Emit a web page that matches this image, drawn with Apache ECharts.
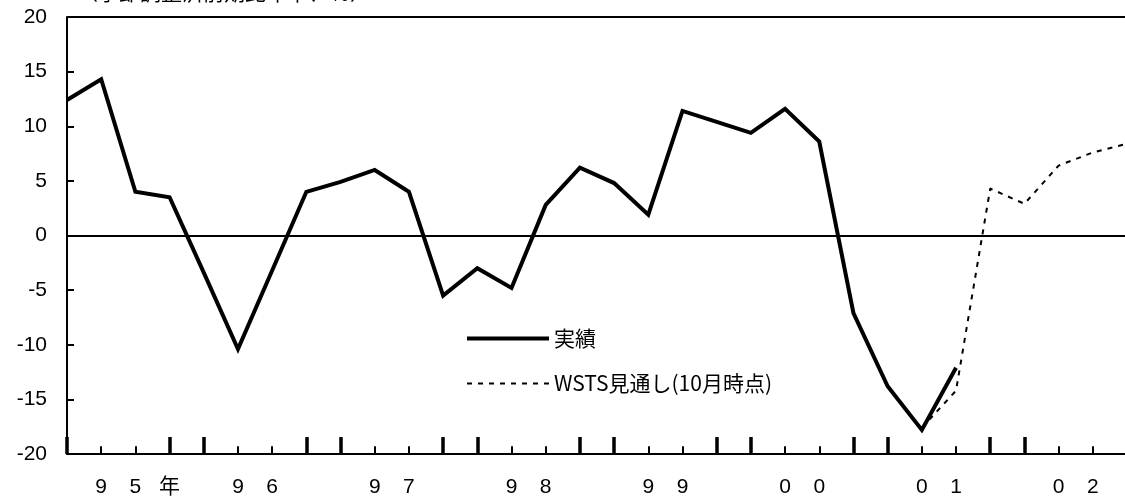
<!DOCTYPE html>
<html>
<head>
<meta charset="utf-8">
<script src="https://cdn.jsdelivr.net/npm/echarts@6/dist/echarts.min.js"></script>
<style>
  html, body { margin: 0; padding: 0; background: #fff; }
</style>
</head>
<body>
<div id="myChart" style="width: 1125px; height: 503px;"></div>
<script>
// 四半期ごとの目盛ラベル（95年1Q ～ 02年4Q）
var quarterLabels = [
  '', '9', '5', '年', '', '9', '6', '', '', '9', '7', '', '', '9', '8', '',
  '', '9', '9', '', '', '0', '0', '', '', '0', '1', '', '', '0', '2', ''
]
// 実績
var actual = [
  12.4, 14.3, 4.0, 3.5, -3.4, -10.4, -3.2, 4.0, 4.9, 6.0, 4.0, -5.5, -3.0, -4.8, 2.8, 6.2,
  4.8, 1.9, 11.4, 10.4, 9.4, 11.6, 8.6, -7.1, -13.8, -17.8, -12.1, null, null, null, null, null
]
// WSTS見通し(10月時点)
var forecast = [
  null, null, null, null, null, null, null, null, null, null, null, null, null, null, null, null,
  null, null, null, null, null, null, null, null, null, -17.6, -14.2, 4.3, 2.9, 6.4, 7.6, 8.4
]
var yTicks = { min: -20, max: 20, interval: 5 }

var font = 'Liberation Sans, Arial, Noto Sans CJK JP, sans-serif'
var jpFont = 'Noto Sans CJK JP, sans-serif'

var plotHeight = 437

// 細い目盛（四半期ごと）を軸の値で短い線として描く
var thinTickLen = 0.7
var thinTicks = quarterLabels.map(function (label, i) {
  return [{ coord: [i, yTicks.min] }, { coord: [i, yTicks.min + thinTickLen] }]
})

var myChart = echarts.init(document.getElementById('myChart'))

var option = {
  animation: false,
  backgroundColor: '#fff',
  graphic: [
    {
      // 上端で切れている単位表記
      type: 'text',
      left: 77,
      top: -18,
      style: { text: '（季節調整済前期比年率、％）', font: '21px ' + jpFont, fill: '#000' }
    }
  ],
  grid: {
    left: 67,
    top: 17,
    width: 1060,
    height: plotHeight,
    outerBoundsMode: 'none',
    containLabel: false
  },
  legend: {
    orient: 'vertical',
    left: 460,
    top: 323,
    itemWidth: 82,
    itemHeight: 14,
    itemGap: 24,
    itemStyle: { opacity: 0 },
    textStyle: { fontFamily: jpFont, fontSize: 21, color: '#000' },
    data: [
      { name: '実績', lineStyle: { width: 4 } },
      { name: 'WSTS見通し(10月時点)' }
    ]
  },
  xAxis: {
    // ラベルと太い目盛（年の区切り）
    type: 'category',
    position: 'bottom',
    boundaryGap: false,
    data: quarterLabels,
    axisLine: { onZero: false, lineStyle: { color: '#000', width: 2 } },
    axisTick: {
      inside: true,
      length: 17,
      interval: function (idx) { return idx % 4 === 0 || idx % 4 === 3 },
      lineStyle: { color: '#000', width: 3.5 }
    },
    axisLabel: { interval: 0, margin: 23, fontFamily: font, fontSize: 21, color: '#000' },
    splitLine: { show: false }
  },
  yAxis: {
    type: 'value',
    min: yTicks.min,
    max: yTicks.max,
    interval: yTicks.interval,
    axisLine: { show: true, lineStyle: { color: '#000', width: 2 } },
    axisTick: { show: true, inside: true, length: 7, lineStyle: { color: '#000', width: 2 } },
    axisLabel: { margin: 20, fontFamily: font, fontSize: 21, color: '#000' },
    splitLine: { show: false }
  },
  series: [
    {
      name: 'WSTS見通し(10月時点)',
      type: 'line',
      data: forecast,
      showSymbol: false,
      symbol: 'none',
      itemStyle: { color: '#000' },
      lineStyle: { color: '#000', width: 2, type: [5, 6] },
      z: 2,
      markLine: {
        silent: true,
        symbol: 'none',
        label: { show: false },
        z: 5,
        lineStyle: { color: '#000', width: 2, type: 'solid' },
        data: thinTicks
      }
    },
    {
      name: '実績',
      type: 'line',
      data: actual,
      showSymbol: false,
      symbol: 'none',
      itemStyle: { color: '#000' },
      lineStyle: { color: '#000', width: 4, join: 'miter' },
      z: 3,
      markLine: {
        // 0 の線と上端の枠線
        silent: true,
        symbol: 'none',
        label: { show: false },
        lineStyle: { color: '#000', width: 2, type: 'solid' },
        data: [{ yAxis: 0 }, { yAxis: yTicks.max }]
      }
    }
  ]
}
myChart.setOption(option)
</script>
</body>
</html>
